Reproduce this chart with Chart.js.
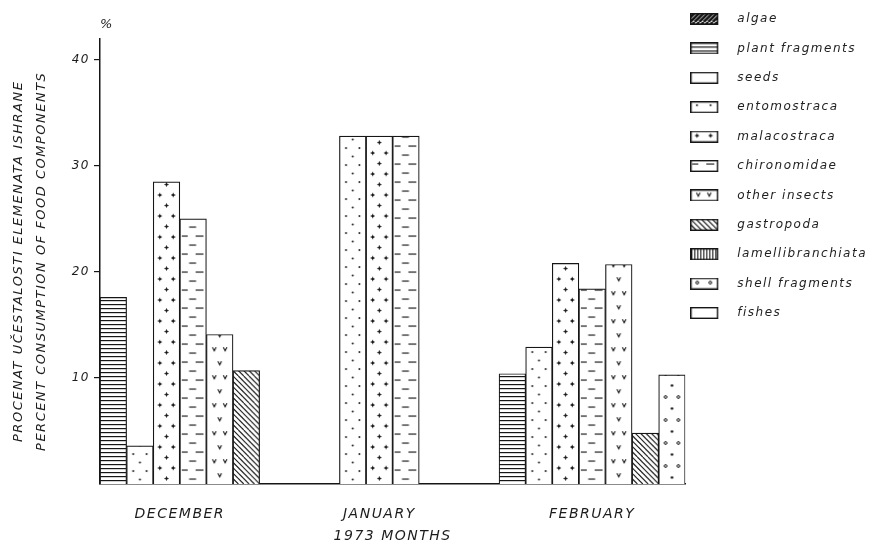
<!DOCTYPE html>
<html>
<head>
<meta charset="utf-8">
<title>Food components, 1973</title>
<script src="https://cdn.jsdelivr.net/npm/chart.js@4.4.1/dist/chart.umd.min.js"></script>
<style>
  html, body { margin: 0; padding: 0; background: #fff; }
  #wrap { width: 877px; height: 546px; }
</style>
</head>
<body>
<div id="wrap"><canvas id="chart" width="877" height="546"></canvas></div>
<script>
// ---- data -------------------------------------------------------------
const months = ['DECEMBER', 'JANUARY', 'FEBRUARY'];

const components = [
  'algae', 'plant fragments', 'seeds', 'entomostraca', 'malacostraca',
  'chironomidae', 'other insects', 'gastropoda', 'lamellibranchiata',
  'shell fragments', 'fishes'
];

// percent consumption per month (December, January, February); null = not found
const algae             = [null, null, null];
const plantFragments    = [17.6, null, 10.4];
const seeds             = [null, null, null];
const entomostraca      = [3.6, 32.8, 12.9];
const malacostraca      = [28.5, 32.8, 20.8];
const chironomidae      = [25.0, 32.8, 18.4];
const otherInsects      = [14.1, null, 20.7];
const gastropoda        = [10.7, null, 4.8];
const lamellibranchiata = [null, null, null];
const shellFragments    = [null, null, 10.3];
const fishes            = [null, null, null];

const yTicks = [10, 20, 30, 40];
const yMax = 42;

const series = [
  algae, plantFragments, seeds, entomostraca, malacostraca, chironomidae,
  otherInsects, gastropoda, lamellibranchiata, shellFragments, fishes
];

// ---- hatching ---------------------------------------------------------
const INK = '#161616';
const TILE_W = 27;           // one bar slot wide; rescaled to the real slot width after layout

function tile(h, paint) {
  const c = document.createElement('canvas');
  c.width = TILE_W; c.height = h;
  const g = c.getContext('2d');
  g.fillStyle = '#fff';
  g.fillRect(0, 0, TILE_W, h);
  g.fillStyle = INK;
  g.strokeStyle = INK;
  paint(g);
  return c;
}
function dot(g, x, y, r) { g.beginPath(); g.arc(x, y, r, 0, Math.PI * 2); g.fill(); }
function ring(g, x, y, r) { g.lineWidth = 1; g.beginPath(); g.arc(x, y, r, 0, Math.PI * 2); g.stroke(); }
function star(g, x, y) {
  dot(g, x, y, 1.25);
  g.lineWidth = 0.8;
  g.beginPath();
  g.moveTo(x - 2.2, y); g.lineTo(x + 2.2, y);
  g.moveTo(x, y - 2.2); g.lineTo(x, y + 2.2);
  g.stroke();
}
function vee(g, x, y) {
  g.lineWidth = 1.1;
  g.beginPath();
  g.moveTo(x - 1.8, y - 1.8); g.lineTo(x, y + 1.8); g.lineTo(x + 1.8, y - 1.8);
  g.stroke();
}
function diagonals(g, h, step, width, rising) {
  g.lineWidth = width;
  for (let x0 = -h; x0 <= TILE_W + h; x0 += step) {
    g.beginPath();
    if (rising) { g.moveTo(x0, h); g.lineTo(x0 + h, 0); }
    else { g.moveTo(x0, 0); g.lineTo(x0 + h, h); }
    g.stroke();
  }
}

const tiles = {
  'algae': tile(9, g => diagonals(g, 9, 4.5, 2.6, true)),
  'plant fragments': tile(4, g => g.fillRect(0, 0, TILE_W, 1.2)),
  'seeds': tile(4, () => {}),
  'entomostraca': tile(17, g => { dot(g, 6.7, 4, 1.0); dot(g, 20.3, 4, 1.0); dot(g, 13.5, 12.5, 1.0); }),
  'malacostraca': tile(21, g => { star(g, 6.7, 5); star(g, 20.3, 5); star(g, 13.5, 15.5); }),
  'chironomidae': tile(18, g => { g.fillRect(2, 3.5, 6, 1.1); g.fillRect(16, 3.5, 8, 1.1); g.fillRect(9.5, 12.5, 7, 1.1); }),
  'other insects': tile(28, g => { vee(g, 8, 5); vee(g, 19, 5); vee(g, 13.5, 19); }),
  'gastropoda': tile(27, g => diagonals(g, 27, 5.4, 1.1, false)),
  'lamellibranchiata': tile(4, g => { for (let x = 1; x < TILE_W; x += 3) g.fillRect(x, 0, 1.1, 4); }),
  'shell fragments': tile(23, g => { ring(g, 7, 5, 1.4); ring(g, 20, 5, 1.4); dot(g, 13.5, 16.5, 1.3); }),
  'fishes': tile(4, () => {})
};

const canvas = document.getElementById('chart');
const mainCtx = canvas.getContext('2d');
const barPatterns = {};
components.forEach(name => { barPatterns[name] = mainCtx.createPattern(tiles[name], 'repeat'); });

// small framed swatch for the key, left part of a wider transparent image
function swatch(tileCanvas) {
  const c = document.createElement('canvas');
  c.width = 41; c.height = 12;
  const g = c.getContext('2d');
  g.fillStyle = g.createPattern(tileCanvas, 'repeat');
  g.fillRect(1, 1, 26, 10);
  g.strokeStyle = INK;
  g.lineWidth = 1.4;
  g.strokeRect(0.7, 0.7, 26.6, 10.6);
  return c;
}
const swatches = components.map(name => swatch(tiles[name]));

// ---- bar slots: present components side by side, gaps between months ----
const GAP_SLOTS = 3;
const slotOwner = [];
const monthCentres = [];
months.forEach((m, mi) => {
  if (mi > 0) for (let k = 0; k < GAP_SLOTS; k++) slotOwner.push(null);
  const first = slotOwner.length;
  series.forEach((vals, ci) => { if (vals[mi] != null) slotOwner.push({ ci, mi }); });
  monthCentres.push((first + slotOwner.length - 1) / 2);
});
const slotCount = slotOwner.length;

const datasets = components.map((name, ci) => ({
  label: name,
  data: slotOwner.map(s => (s && s.ci === ci ? series[ci][s.mi] : null)),
  backgroundColor: barPatterns[name],
  borderColor: INK,
  borderWidth: 1.2,
  grouped: false,
  barPercentage: 1,
  categoryPercentage: 1
}));

// ---- plugins ----------------------------------------------------------
const spacedLettering = {
  id: 'spacedLettering',
  beforeLayout(chart) { chart.ctx.letterSpacing = '1.5px'; },
  beforeDraw(chart) { chart.ctx.letterSpacing = '1.5px'; }
};

const slotPatterns = {
  id: 'slotPatterns',
  afterLayout(chart) {
    const xs = chart.scales.x;
    const slotW = xs.width / slotCount;
    const m = new DOMMatrix()
      .translateSelf(xs.left, chart.chartArea.bottom)
      .scaleSelf(slotW / TILE_W, 1);
    Object.values(barPatterns).forEach(p => p.setTransform(m));
  }
};

// ---- chart ------------------------------------------------------------
Chart.defaults.font.family = "'DejaVu Sans', 'Liberation Sans', sans-serif";
Chart.defaults.font.style = 'italic';
Chart.defaults.font.size = 12;
Chart.defaults.color = '#1c1c1c';

new Chart(canvas, {
  type: 'bar',
  data: { labels: slotOwner.map(() => ''), datasets },
  options: {
    responsive: false,
    animation: false,
    devicePixelRatio: 1,
    layout: { padding: { top: 8, right: 0, bottom: 0, left: 0 } },
    scales: {
      x: {
        type: 'category',
        offset: true,
        weight: 0,
        grid: { display: false, drawTicks: false },
        ticks: { display: false },
        border: { display: true, color: INK, width: 1.5 }
      },
      xm: {
        type: 'linear',
        position: 'bottom',
        weight: 1,
        offset: false,
        min: -0.5,
        max: slotCount - 0.5,
        grid: { display: false, drawTicks: true, tickLength: 22, offset: false },
        border: { display: false },
        afterBuildTicks: s => { s.ticks = monthCentres.map(v => ({ value: v })); },
        ticks: {
          autoSkip: false,
          maxRotation: 0,
          padding: 0,
          font: { size: 14 },
          callback: (v, i) => months[i]
        },
        title: {
          display: true,
          text: '1973 MONTHS',
          font: { size: 14 },
          padding: { top: 4.8, bottom: 1.6 }
        }
      },
      y: {
        min: 0,
        max: yMax,
        afterBuildTicks: s => { s.ticks = yTicks.map(v => ({ value: v })); },
        afterFit: s => { s.width = 100; },
        ticks: { padding: 4, font: { size: 12 } },
        grid: { drawOnChartArea: false, drawTicks: true, tickLength: 6, color: INK, lineWidth: 1.2 },
        border: { color: INK, width: 1.5 },
        title: {
          display: true,
          text: ['PROCENAT UČESTALOSTI ELEMENATA ISHRANE', 'PERCENT CONSUMPTION OF FOOD COMPONENTS'],
          font: { size: 13, lineHeight: '22.5px' },
          padding: { top: 7.75, bottom: 0 }
        }
      }
    },
    plugins: {
      title: {
        display: true,
        text: '%',
        position: 'top',
        align: 'start',
        fullSize: false,
        font: { size: 13, style: 'italic', weight: 'normal' },
        padding: { top: 9, bottom: 6 }
      },
      legend: {
        position: 'right',
        align: 'start',
        labels: {
          usePointStyle: true,
          pointStyleWidth: 41,
          boxHeight: 12,
          padding: 5,
          color: '#222',
          font: { size: 12, lineHeight: '24.4px' },
          generateLabels(chart) {
            const items = Chart.defaults.plugins.legend.labels.generateLabels(chart);
            items.forEach(item => {
              item.pointStyle = swatches[item.datasetIndex];
              item.text = [item.text];
            });
            return items;
          }
        }
      },
      tooltip: { enabled: false }
    }
  },
  plugins: [spacedLettering, slotPatterns]
});
</script>
</body>
</html>
